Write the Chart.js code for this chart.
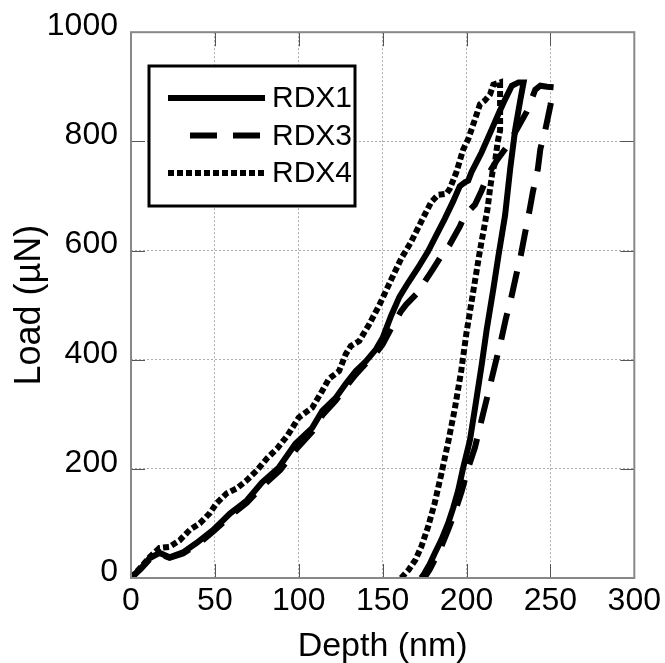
<!DOCTYPE html>
<html>
<head>
<meta charset="utf-8">
<script src="https://cdn.jsdelivr.net/npm/chart.js@4.4.0/dist/chart.umd.min.js"></script>
<style>
  html, body { margin: 0; padding: 0; background: #fff; }
  #wrap { width: 665px; height: 663px; }
</style>
</head>
<body>
<div id="wrap"><canvas id="chart" width="665" height="663"></canvas></div>
<script>
// Courbes charge / décharge : profondeur (nm) et charge (µN)
const rdx1Depth = [0, 6, 11, 17, 23, 31, 39, 49, 59, 69, 78, 88, 98, 108, 114, 122, 128, 134, 140, 146, 150, 155, 160, 165, 171, 177, 182, 187, 192, 196, 199, 201, 203, 206, 209, 215, 219, 223, 227, 231, 234,
  232, 229, 226, 223, 219, 216, 212, 209, 205, 202, 198, 195, 192, 189, 185, 181, 178, 175, 173];
const rdx1Load = [0, 18, 36, 46, 38, 47, 64, 88, 118, 142, 175, 202, 246, 275, 306, 330, 356, 379, 397, 419, 440, 480, 515, 540, 568, 598, 628, 658, 690, 718, 725, 728, 744, 762, 780, 822, 850, 877, 902, 908, 908,
  875, 822, 749, 665, 590, 530, 455, 390, 310, 252, 202, 160, 128, 100, 70, 45, 25, 9, 0];

const rdx3Depth = [0, 6, 11, 17, 23, 31, 40, 49, 59, 69, 79, 89, 99, 108, 114, 122, 128, 134, 140, 146, 150, 155, 161, 164, 170, 174, 180, 186, 190, 196, 199, 205, 209, 213, 218, 224, 230, 236, 241, 244, 248, 252,
  250, 247, 244, 242.5, 239.5, 237.7, 234.7, 232.4, 229.4, 226.4, 223.5, 220.5, 217.5, 213, 209, 205, 201, 197, 193, 189, 185, 181, 178, 176, 174];
const rdx3Load = [0, 17, 34, 44, 37, 45, 62, 85, 113, 138, 170, 198, 238, 268, 298, 325, 350, 373, 393, 412, 428, 457, 489, 501, 520, 538, 566, 595, 611, 644, 665, 684, 710, 740, 765, 790, 822, 855, 895, 902, 900, 899,
  866, 822, 786, 749, 707, 676, 629, 592, 552, 510, 476, 434, 397, 340, 290, 239, 202, 158, 120, 88, 58, 33, 15, 6, 0];

const rdx4Depth = [0, 6, 11, 17, 23, 29, 35, 41, 47, 51, 57, 63, 69, 75, 81, 87, 93, 98, 100, 108, 114, 118, 124, 128, 131, 136, 142, 148, 155, 161, 167, 173, 179, 183, 188, 190, 194, 198, 201, 205, 208, 211, 214, 216, 220,
  220, 218.5, 217, 215.5, 214, 212.5, 208, 204, 200, 196.8, 193, 189, 185, 181, 177, 173, 169.5, 165.5, 161];
const rdx4Load = [0, 20, 38, 55, 57, 69, 88, 100, 119, 137, 155, 164, 179, 197, 219, 237, 260, 284, 294, 312, 343, 365, 379, 410, 425, 434, 465, 500, 546, 585, 616, 653, 689, 702, 704, 713, 744, 785, 804, 840, 868, 875, 886, 904, 908,
  820, 798, 762, 744, 713, 676, 600, 525, 450, 379, 310, 248, 191, 137, 93, 57, 33, 15, 0];

const seriesNames = ["RDX1", "RDX3", "RDX4"];
const xTicks = [0, 50, 100, 150, 200, 250, 300];
const yTicks = [0, 200, 400, 600, 800, 1000];

const FONT = "'Liberation Sans', Arial, sans-serif";

function toPoints(xs, ys) {
  return xs.map((x, i) => ({ x: x, y: ys[i] }));
}

// Cadre complet + petites graduations intérieures
const framePlugin = {
  id: "frame",
  afterDraw(chart) {
    const { ctx, chartArea: a, scales } = chart;
    ctx.save();
    ctx.strokeStyle = "#555";
    ctx.lineWidth = 1;
    const len = 14;
    xTicks.forEach((v) => {
      const px = Math.round(scales.x.getPixelForValue(v)) + 0.5;
      ctx.beginPath();
      ctx.moveTo(px, a.bottom); ctx.lineTo(px, a.bottom - len);
      ctx.moveTo(px, a.top); ctx.lineTo(px, a.top + len);
      ctx.stroke();
    });
    yTicks.forEach((v) => {
      const py = Math.round(scales.y.getPixelForValue(v)) + 0.5;
      ctx.beginPath();
      ctx.moveTo(a.left, py); ctx.lineTo(a.left + len, py);
      ctx.moveTo(a.right, py); ctx.lineTo(a.right - len, py);
      ctx.stroke();
    });
    ctx.strokeStyle = "#888";
    ctx.lineWidth = 2;
    ctx.strokeRect(a.left, a.top, a.right - a.left, a.bottom - a.top);
    ctx.restore();
  },
};

// Légende encadrée dans la zone de tracé
const legendPlugin = {
  id: "boxLegend",
  afterDraw(chart) {
    const ctx = chart.ctx;
    const bx = 149, by = 66, bw = 206, bh = 140;
    ctx.save();
    ctx.fillStyle = "#fff";
    ctx.fillRect(bx, by, bw, bh);
    ctx.strokeStyle = "#000";
    ctx.lineWidth = 3;
    ctx.strokeRect(bx, by, bw, bh);
    ctx.font = "30px " + FONT;
    ctx.fillStyle = "#000";
    ctx.textBaseline = "middle";
    chart.data.datasets.forEach((ds, i) => {
      const y = 98 + i * 37.5;
      ctx.beginPath();
      ctx.lineWidth = ds.borderWidth;
      ctx.setLineDash(ds.borderDash || []);
      const x0 = i === 1 ? 190 : 168;
      ctx.moveTo(x0, y);
      ctx.lineTo(265, y);
      ctx.stroke();
      ctx.setLineDash([]);
      ctx.fillText(ds.label, 272, y + 1);
    });
    ctx.restore();
  },
};

const ctx = document.getElementById("chart").getContext("2d");
new Chart(ctx, {
  type: "scatter",
  data: {
    datasets: [
      { label: seriesNames[0], data: toPoints(rdx1Depth, rdx1Load), borderDash: [] },
      { label: seriesNames[1], data: toPoints(rdx3Depth, rdx3Load), borderDash: [27, 16] },
      { label: seriesNames[2], data: toPoints(rdx4Depth, rdx4Load), borderDash: [6, 3] },
    ].map((d) => Object.assign(d, {
      showLine: true,
      borderColor: "#000",
      backgroundColor: "#000",
      borderWidth: 6,
      pointRadius: 0,
      tension: 0,
    })),
  },
  options: {
    responsive: false,
    animation: false,
    layout: { padding: { top: 29, right: 28, left: 0, bottom: 0 } },
    plugins: { legend: { display: false }, tooltip: { enabled: false } },
    scales: {
      x: {
        type: "linear",
        min: 0,
        max: 300,
        afterBuildTicks: (s) => { s.ticks = xTicks.map((v) => ({ value: v })); },
        afterFit: (s) => { s.height = 85; },
        ticks: { font: { family: FONT, size: 32 }, color: "#000", padding: 4, maxRotation: 0, callback: (v) => String(v) },
        grid: { color: "#aaa", lineWidth: 1, drawTicks: false },
        border: { display: false, dash: [2, 2] },
        title: { display: true, text: "Depth (nm)", font: { family: FONT, size: 34 }, color: "#000", padding: { top: 0, bottom: -4 } },
      },
      y: {
        type: "linear",
        min: 0,
        max: 1000,
        afterBuildTicks: (s) => { s.ticks = yTicks.map((v) => ({ value: v })); },
        afterFit: (s) => { s.width = 131; },
        ticks: { font: { family: FONT, size: 32 }, color: "#000", padding: 13, labelOffset: -6, callback: (v) => String(v) },
        grid: { color: "#aaa", lineWidth: 1, drawTicks: false },
        border: { display: false, dash: [2, 2] },
        title: { display: true, text: "Load (µN)", font: { family: FONT, size: 36 }, color: "#000", padding: { top: 8, bottom: 0 } },
      },
    },
  },
  plugins: [framePlugin, legendPlugin],
});
</script>
</body>
</html>
